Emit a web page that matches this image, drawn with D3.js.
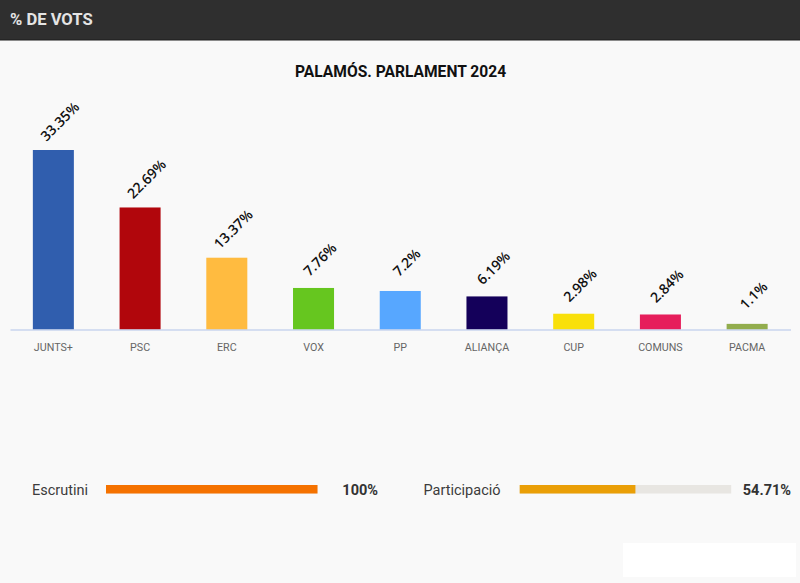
<!DOCTYPE html>
<html><head><meta charset="utf-8">
<script src="https://cdn.jsdelivr.net/npm/d3@7"></script>
<style>html,body{margin:0;padding:0;background:#f9f9f9;overflow:hidden}svg{display:block}</style>
</head><body><svg id="c" width="800" height="583"></svg>
<script>
const categories = ["JUNTS+","PSC","ERC","VOX","PP","ALIANÇA","CUP","COMUNS","PACMA"];
const values = [33.35,22.69,13.37,7.76,7.2,6.19,2.98,2.84,1.1];
const labels = ["33.35%","22.69%","13.37%","7.76%","7.2%","6.19%","2.98%","2.84%","1.1%"];
const colors = ["#305eae","#b1060c","#ffbb40","#66c61f","#57a7ff","#14005a","#f9e00a","#e61e5b","#92ad4d"];
const gaugeNames = ["Escrutini","Participació"];
const gaugeValues = [100,54.71];
const gaugeLabels = ["100%","54.71%"];
const gaugeColors = ["#f57200","#ea9f07"];

const svg = d3.select("#c");
const roboto = "Roboto, sans-serif";
svg.append("rect").attr("width",800).attr("height",583).attr("fill","#f9f9f9");
svg.append("rect").attr("width",800).attr("height",40).attr("fill","#2f2f2f");
svg.append("rect").attr("y",39.5).attr("width",800).attr("height",1).attr("fill","#1c1c1c");
svg.append("text").attr("x",10).attr("y",25).attr("font-family",roboto).attr("font-weight",700)
  .attr("font-size",16.6).attr("fill","#e4e4e4").text("% DE VOTS");
svg.append("text").attr("x",400.5).attr("y",77).attr("text-anchor","middle").attr("font-family",roboto)
  .attr("font-weight",700).attr("font-size",15.6).attr("fill","#111").text("PALAMÓS. PARLAMENT 2024");

const x = d3.scaleBand().domain(categories).range([10,790.5]).paddingInner(0.527).paddingOuter(0.2635);
const y = d3.scaleLinear().domain([0,33.35]).range([329.8,150]);

svg.selectAll("rect.bar").data(categories).join("rect").attr("class","bar")
  .attr("x",d=>x(d)).attr("width",x.bandwidth())
  .attr("y",(d,i)=>y(values[i])).attr("height",(d,i)=>y(0)-y(values[i]))
  .attr("fill",(d,i)=>colors[i]);

const axis = svg.append("g").attr("transform","translate(0,329.5)")
  .call(d3.axisBottom(x).tickSize(0).tickPadding(14));
axis.select(".domain").attr("stroke","#c9d5ee").attr("stroke-width",1.3);
axis.selectAll("text").attr("font-family",roboto).attr("font-size",10.7).attr("fill","#666");

svg.selectAll("text.val").data(categories).join("text").attr("class","val")
  .attr("text-anchor","middle").attr("font-family","'Open Sans', sans-serif").attr("font-size",14)
  .attr("font-weight",600).attr("fill","#111")
  .attr("transform",(d,i)=>`translate(${x(d)+x.bandwidth()/2+10},${y(values[i])-25}) rotate(-45)`)
  .text((d,i)=>labels[i]);

const gaugeLeft = [106,519.7], gaugeWidth = 211.5;
gaugeNames.forEach((n,i)=>{
  const g = d3.scaleLinear().domain([0,100]).range([gaugeLeft[i],gaugeLeft[i]+gaugeWidth]);
  svg.append("rect").attr("x",g(0)).attr("y",485).attr("width",g(100)-g(0)).attr("height",8.5).attr("fill","#e8e6e2");
  svg.append("rect").attr("x",g(0)).attr("y",485).attr("width",g(gaugeValues[i])-g(0)).attr("height",8.5).attr("fill",gaugeColors[i]);
  svg.append("text").attr("x",[32,423.5][i]).attr("y",495).attr("font-family",roboto).attr("font-size",14.5)
    .attr("fill","#3c3c3c").text(n);
  svg.append("text").attr("x",[378,791][i]).attr("y",495).attr("text-anchor","end").attr("font-family",roboto)
    .attr("font-weight",700).attr("font-size",14.5).attr("fill","#333").text(gaugeLabels[i]);
});
svg.append("rect").attr("x",623).attr("y",543).attr("width",173).attr("height",34).attr("fill","#fff");
</script></body></html>
